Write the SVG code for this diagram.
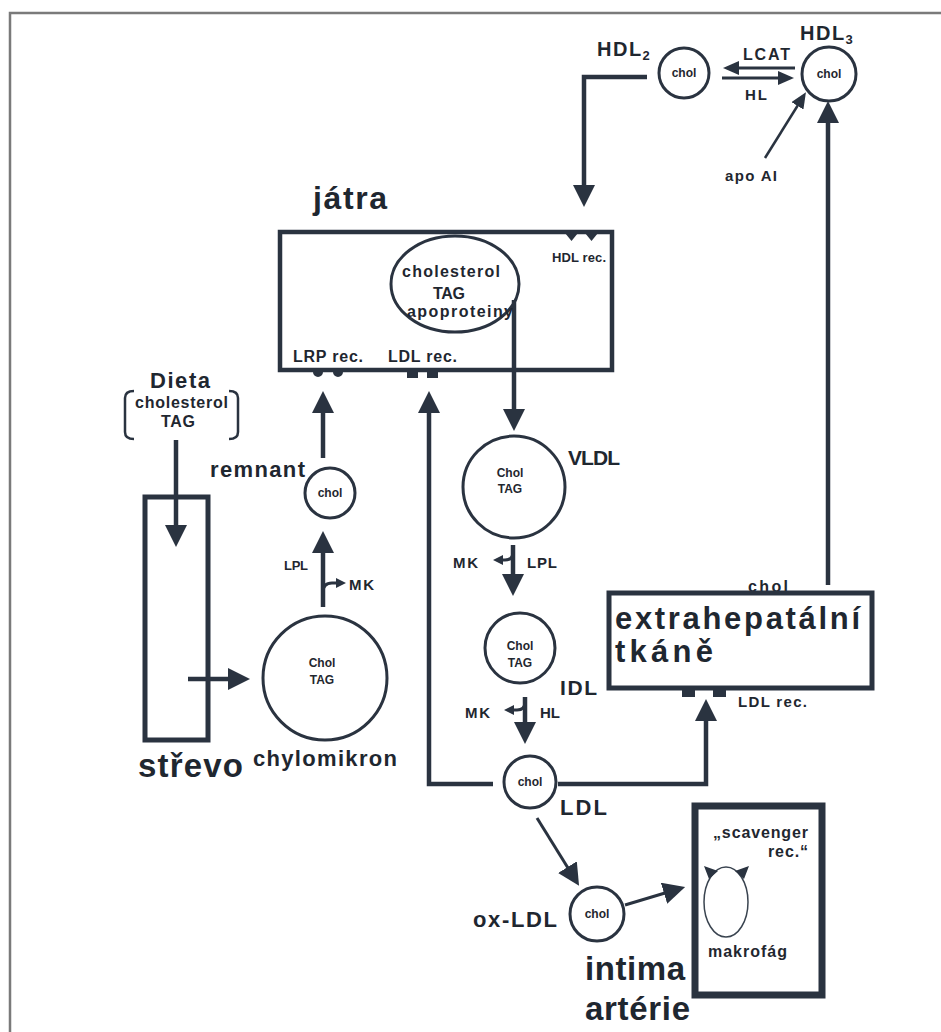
<svg xmlns="http://www.w3.org/2000/svg" width="941" height="1032" viewBox="0 0 941 1032">
<style>
text{font-family:"Liberation Sans",Arial,sans-serif;font-weight:bold;fill:#1f2730}
.ln{fill:none;stroke:#2a3340;stroke-width:4.5}
.thin{fill:none;stroke:#2a3340;stroke-width:3}
.box{fill:none;stroke:#2a3340}
.c{fill:#fff;stroke:#2a3340;stroke-width:3}
.f{fill:#2a3340}
.m{text-anchor:middle}
</style>
<defs>
<marker id="big" markerUnits="userSpaceOnUse" viewBox="0 0 22 22" markerWidth="22" markerHeight="22" refX="1" refY="11" orient="auto"><path d="M0,0 L22,11 L0,22 z" fill="#2a3340"/></marker>
<marker id="med" markerUnits="userSpaceOnUse" viewBox="0 0 16 14" markerWidth="16" markerHeight="14" refX="1" refY="7" orient="auto"><path d="M0,0 L16,7 L0,14 z" fill="#2a3340"/></marker>
<marker id="sm" markerUnits="userSpaceOnUse" viewBox="0 0 10 10" markerWidth="10" markerHeight="10" refX="1" refY="5" orient="auto"><path d="M0,0 L10,5 L0,10 z" fill="#2a3340"/></marker>
</defs>

<path d="M10,1032 V13 H941" fill="none" stroke="#7a7a7a" stroke-width="2.5"/>

<g id="connectors">
<line class="ln" x1="176" y1="440" x2="176" y2="526" marker-end="url(#big)"/>
<line class="ln" x1="188" y1="679" x2="229" y2="679" marker-end="url(#big)"/>
<line class="ln" x1="323" y1="607" x2="323" y2="552" marker-end="url(#big)"/>
<path class="thin" d="M323,592 Q323,583 332,583 L337,583" marker-end="url(#sm)"/>
<line class="ln" x1="323" y1="458" x2="323" y2="412" marker-end="url(#big)"/>
<path class="ln" d="M493,784 H429 V412" marker-end="url(#big)"/>
<path class="ln" d="M514,300 V410" marker-end="url(#big)"/>
<line class="ln" x1="513" y1="545" x2="513" y2="575" marker-end="url(#big)"/>
<path class="thin" d="M513,552 Q513,560 505,560 L502,560" marker-end="url(#sm)"/>
<line class="ln" x1="525" y1="697" x2="525" y2="723" marker-end="url(#big)"/>
<path class="thin" d="M525,702 Q525,710 517,710 L513,710" marker-end="url(#sm)"/>
<path class="ln" d="M558,784 H706 V720" marker-end="url(#big)"/>
<line class="thin" x1="537" y1="818" x2="568" y2="868" marker-end="url(#big)"/>
<line class="thin" x1="625" y1="905" x2="665" y2="893" marker-end="url(#big)"/>
<line class="ln" x1="828" y1="585" x2="828" y2="122" marker-end="url(#big)"/>
<line class="box" stroke-width="2.5" x1="765" y1="158" x2="798" y2="105" marker-end="url(#med)"/>
<path class="ln" d="M647,77 H584 V186" marker-end="url(#big)"/>
<line class="thin" stroke-width="4" x1="795" y1="68" x2="738" y2="68" marker-end="url(#med)"/>
<line class="thin" stroke-width="4" x1="722" y1="78" x2="779" y2="78" marker-end="url(#med)"/>
</g>

<g id="hdl2">
<circle class="c" cx="684" cy="73" r="25" stroke-width="3.5"/>
<text class="m" x="684" y="77" font-size="12">chol</text>
<text x="597" y="56" font-size="20" letter-spacing="1.5">HDL<tspan font-size="13" dy="4" letter-spacing="0">2</tspan></text>
</g>
<g id="hdl3">
<circle class="c" cx="829" cy="74" r="27" stroke-width="3.5"/>
<text class="m" x="829" y="78" font-size="12">chol</text>
<text x="800" y="40" font-size="20" letter-spacing="1.5">HDL<tspan font-size="13" dy="4" letter-spacing="0">3</tspan></text>
</g>
<g id="enzymes-hdl">
<text x="743" y="60" font-size="16" textLength="47">LCAT</text>
<text x="745" y="100" font-size="15" textLength="22">HL</text>
<text x="725" y="181" font-size="15" textLength="52">apo AI</text>
</g>

<g id="jatra">
<text x="313" y="209" font-size="32" textLength="74">játra</text>
<rect class="box" x="280" y="232" width="332" height="138" stroke-width="4.5"/>
<path class="f" d="M565,233 H578 L571.5,241 Z M585,233 H598 L591.5,241 Z"/>
<text x="552" y="262" font-size="13" textLength="54">HDL rec.</text>
<ellipse cx="455" cy="284" rx="64" ry="48" fill="none" stroke="#2a3340" stroke-width="3"/>
<text class="m" x="451" y="277" font-size="16" textLength="98">cholesterol</text>
<text class="m" x="449" y="299" font-size="16" textLength="32">TAG</text>
<text class="m" x="460" y="317" font-size="16" textLength="106">apoproteiny</text>
<text x="293" y="362" font-size="16" textLength="70">LRP rec.</text>
<text x="388" y="362" font-size="16" textLength="69">LDL rec.</text>
<path class="f" d="M313,372 A5,5 0 0 0 323,372 Z M333,372 A5,5 0 0 0 343,372 Z"/>
<rect class="f" x="407" y="368" width="11" height="10"/>
<rect class="f" x="427" y="368" width="11" height="10"/>
</g>

<g id="dieta">
<text x="150" y="388" font-size="22" textLength="60">Dieta</text>
<text x="135" y="408" font-size="16" textLength="93">cholesterol</text>
<text x="161" y="427" font-size="16" textLength="34">TAG</text>
<path d="M134,391 Q125,391 125,398 V432 Q125,439 134,439 M229,391 Q238,391 238,398 V432 Q238,439 229,439" fill="none" stroke="#2a3340" stroke-width="2.5"/>
</g>

<g id="strevo">
<rect class="box" x="145" y="497" width="63" height="243" stroke-width="5"/>
<text x="138" y="777" font-size="33" textLength="105">střevo</text>
</g>

<g id="chylomikron">
<circle class="c" cx="325" cy="678" r="62"/>
<text class="m" x="322" y="667" font-size="12">Chol</text>
<text class="m" x="322" y="684" font-size="12">TAG</text>
<text x="253" y="766" font-size="22" textLength="144">chylomikron</text>
<text x="284" y="570" font-size="13" textLength="24">LPL</text>
<text x="349" y="590" font-size="15" textLength="25">MK</text>
</g>

<g id="remnant">
<circle class="c" cx="330" cy="493" r="25" stroke-width="3.5"/>
<text class="m" x="330" y="497" font-size="12">chol</text>
<text x="210" y="477" font-size="22" textLength="95">remnant</text>
</g>

<g id="vldl">
<circle class="c" cx="514" cy="487" r="51"/>
<text class="m" x="510" y="477" font-size="12">Chol</text>
<text class="m" x="510" y="493" font-size="12">TAG</text>
<text x="568" y="465" font-size="21" textLength="52">VLDL</text>
<text x="453" y="568" font-size="15" textLength="25">MK</text>
<text x="527" y="568" font-size="15" textLength="30">LPL</text>
</g>

<g id="idl">
<circle class="c" cx="520" cy="648" r="35"/>
<text class="m" x="520" y="650" font-size="12">Chol</text>
<text class="m" x="520" y="667" font-size="12">TAG</text>
<text x="560" y="695" font-size="21" textLength="37">IDL</text>
<text x="465" y="718" font-size="15" textLength="25">MK</text>
<text x="540" y="718" font-size="15" textLength="20">HL</text>
</g>

<g id="ldl">
<circle class="c" cx="530" cy="782" r="26" stroke-width="3.5"/>
<text class="m" x="530" y="786" font-size="12">chol</text>
<text x="560" y="815" font-size="22" textLength="47">LDL</text>
</g>

<g id="extrahepatalni">
<text x="748" y="592" font-size="16" textLength="40">chol</text>
<rect class="box" x="609" y="593" width="263" height="95" stroke-width="5"/>
<text x="615" y="629" font-size="31" textLength="245">extrahepatální</text>
<text x="615" y="662" font-size="31" textLength="98">tkáně</text>
<rect class="f" x="682" y="688" width="13" height="9"/>
<rect class="f" x="713" y="688" width="13" height="9"/>
<text x="738" y="707" font-size="15" textLength="69">LDL rec.</text>
</g>

<g id="oxldl">
<circle class="c" cx="597" cy="914" r="27" stroke-width="3.5"/>
<text class="m" x="597" y="918" font-size="12">chol</text>
<text x="473" y="927" font-size="22" textLength="84">ox-LDL</text>
</g>

<g id="intima">
<rect class="box" x="695" y="806" width="127" height="189" stroke-width="7"/>
<text x="713" y="838" font-size="16" textLength="95">„scavenger</text>
<text x="768" y="857" font-size="16" textLength="40">rec.“</text>
<ellipse cx="726" cy="902" rx="22" ry="35" fill="none" stroke="#3a4450" stroke-width="1.5"/>
<path class="f" d="M704,866 L718,871 L709,879 Z M749,866 L735,871 L744,879 Z"/>
<text x="708" y="957" font-size="16" textLength="79">makrofág</text>
<text x="585" y="980" font-size="33" textLength="100">intima</text>
<text x="585" y="1020" font-size="33" textLength="105">artérie</text>
</g>
</svg>
